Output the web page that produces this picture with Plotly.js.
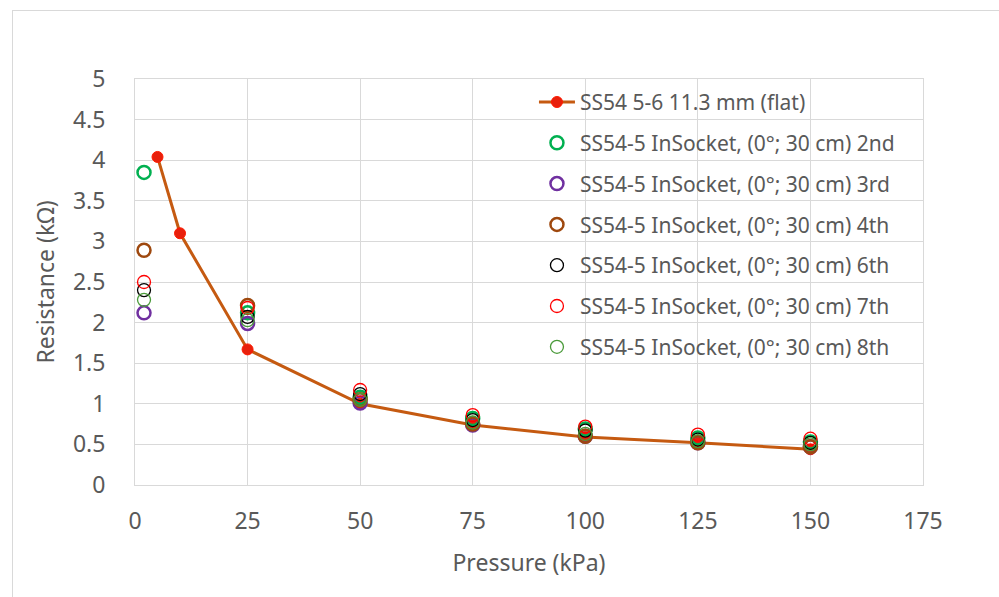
<!DOCTYPE html>
<html>
<head>
<meta charset="utf-8">
<script src="https://cdn.plot.ly/plotly-3.0.1.min.js"></script>
<style>
html,body{margin:0;padding:0;background:#fff;overflow:hidden;}
#frame{position:absolute;left:12px;top:10px;width:1000px;height:600px;border:1px solid #d9d9d9;box-sizing:border-box;}
#chart{position:absolute;left:0;top:0;width:999px;height:597px;}
</style>
</head>
<body>
<div id="frame"></div>
<div id="chart"></div>
<script>
// Reference curve: SS54 5-6 11.3 mm (flat)
var flatPressure = [5, 10, 25, 50, 75, 100, 125, 150];
var flatResistance = [4.04, 3.10, 1.67, 1.00, 0.74, 0.59, 0.52, 0.44];

// InSocket measurements
var sockPressure = [2, 25, 50, 75, 100, 125, 150];
var run2nd = [3.85, 2.12, 1.08, 0.82, 0.69, 0.58, 0.53];
var run3rd = [2.12, 1.99, 1.01, 0.74, 0.60, 0.52, 0.47];
var run4th = [2.89, 2.21, 1.05, 0.75, 0.60, 0.52, 0.47];
var run6th = [2.40, 2.07, 1.12, 0.80, 0.67, 0.56, 0.52];
var run7th = [2.50, 2.18, 1.17, 0.86, 0.72, 0.62, 0.57];
var run8th = [2.28, 2.03, 1.05, 0.77, 0.63, 0.54, 0.50];

var runNames = ['2nd', '3rd', '4th', '6th', '7th', '8th'];
var runValues = [run2nd, run3rd, run4th, run6th, run7th, run8th];
var runColors = ['#00b050', '#7030a0', '#9e480e', '#000000', '#ff0000', '#4a9a3a'];
var runWidths = [2.5, 2.5, 2.5, 1.3, 1.3, 1.3];

var traces = [{
  x: flatPressure, y: flatResistance,
  type: 'scatter', mode: 'lines+markers',
  name: 'SS54 5-6 11.3 mm (flat)',
  legendgroup: 'g0',
  line: {color: '#c55a11', width: 3},
  marker: {symbol: 'circle', size: 11, color: '#e8200c', line: {color: '#ff1a00', width: 1}}
}];
for (var i = 0; i < runNames.length; i++) {
  traces.push({
    x: sockPressure, y: runValues[i],
    type: 'scatter', mode: 'markers',
    name: 'SS54-5 InSocket, (0°; 30 cm) ' + runNames[i],
    legendgroup: 'g' + (i + 1),
    marker: {symbol: 'circle-open', size: 13, color: runColors[i], line: {color: runColors[i], width: runWidths[i]}}
  });
}

var fontFam = '"Noto Sans", "Open Sans", sans-serif';
var layout = {
  width: 999, height: 597,
  paper_bgcolor: 'rgba(0,0,0,0)',
  plot_bgcolor: 'rgba(0,0,0,0)',
  margin: {l: 135, r: 76, t: 79, b: 112},
  font: {family: fontFam, color: '#595959', size: 23},
  showlegend: true,
  legend: {
    x: 0.5063, y: 0.993, xanchor: 'left', yanchor: 'top',
    bgcolor: 'rgba(255,255,255,0)',
    font: {family: fontFam, size: 21, color: '#595959'},
    traceorder: 'grouped',
    tracegroupgap: 10.5,
    itemsizing: 'trace',
    itemwidth: 36
  },
  shapes: [{
    type: 'rect', xref: 'paper', yref: 'paper', layer: 'between',
    x0: 0.4835, x1: 0.99, y0: 0.3005, y1: 0.9926,
    fillcolor: '#ffffff', line: {width: 0}
  }],
  xaxis: {
    range: [0, 175], tickvals: [0, 25, 50, 75, 100, 125, 150, 175],
    showgrid: true, gridcolor: '#d9d9d9', gridwidth: 1,
    zeroline: false, showline: true, linecolor: '#d9d9d9', linewidth: 1, mirror: true,
    ticks: '', ticklabelstandoff: 15,
    tickfont: {size: 23, color: '#595959'},
    title: {text: 'Pressure (kPa)', font: {size: 23, color: '#595959'}, standoff: 20}
  },
  yaxis: {
    range: [0, 5], tickvals: [0, 0.5, 1, 1.5, 2, 2.5, 3, 3.5, 4, 4.5, 5],
    ticktext: ['0', '0.5', '1', '1.5', '2', '2.5', '3', '3.5', '4', '4.5', '5'],
    showgrid: true, gridcolor: '#d9d9d9', gridwidth: 1,
    zeroline: false, showline: true, linecolor: '#d9d9d9', linewidth: 1, mirror: true,
    ticks: '', ticklabelstandoff: 24,
    tickfont: {size: 23, color: '#595959'},
    title: {text: 'Resistance (kΩ)', font: {size: 23, color: '#595959'}, standoff: 11}
  }
};

Plotly.newPlot('chart', traces, layout, {displayModeBar: false, staticPlot: true});
</script>
</body>
</html>
